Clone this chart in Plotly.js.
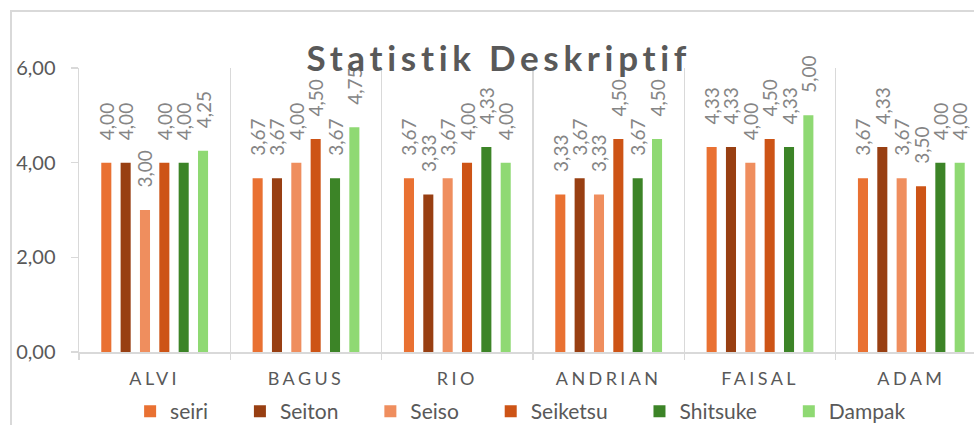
<!DOCTYPE html>
<html><head><meta charset="utf-8">
<script src="https://cdn.plot.ly/plotly-3.0.1.min.js"></script>
<style>
html,body{margin:0;padding:0;overflow:hidden;background:#fff;}
#chart{width:1000px;height:425px;position:absolute;left:0;top:0;}
#frame{position:absolute;left:10px;top:10px;width:1100px;height:500px;border-left:2px solid #D9D9D9;border-top:2px solid #D9D9D9;pointer-events:none;}
.gtitle{letter-spacing:4.7px;}
.xtick text{letter-spacing:3.4px;}
</style></head><body>
<div id="chart"></div><div id="frame"></div>
<script>
const categories = ['ALVI','BAGUS','RIO','ANDRIAN','FAISAL','ADAM'];
const seiri    = [4.00, 3.67, 3.67, 3.33, 4.33, 3.67];
const seiton   = [4.00, 3.67, 3.33, 3.67, 4.33, 4.33];
const seiso    = [3.00, 4.00, 3.67, 3.33, 4.00, 3.67];
const seiketsu = [4.00, 4.50, 4.00, 4.50, 4.50, 3.50];
const shitsuke = [4.00, 3.67, 4.33, 3.67, 4.33, 4.00];
const dampak   = [4.25, 4.75, 4.00, 4.50, 5.00, 4.00];
const seriesNames = ['seiri','Seiton','Seiso','Seiketsu','Shitsuke','Dampak'];
const seriesValues = [seiri, seiton, seiso, seiketsu, shitsuke, dampak];
const yTickVals = [0, 2, 4, 6];

const colors = ['#E97132','#983F12','#EF8E5E','#CD5416','#3C8427','#8FD973'];
const NB = '\u00a0';
const legendPad = NB.repeat(5);

const traces = seriesNames.map((name, i) => ({
  type: 'bar',
  name: name + legendPad,
  x: categories,
  y: seriesValues[i],
  marker: {color: colors[i]},
  texttemplate: NB.repeat(4) + '%{y:.2f}',
  textposition: 'outside',
  textangle: -90,
  constraintext: 'none',
  cliponaxis: false,
  textfont: {family: 'Lato', size: 19, color: '#858585'},
  hoverinfo: 'skip'
}));

const layout = {
  width: 1000, height: 425,
  margin: {l: 79, r: 13, t: 68, b: 73, autoexpand: false},
  separators: ', ',
  paper_bgcolor: '#fff', plot_bgcolor: '#fff',
  barmode: 'group', bargap: 0.233, bargroupgap: 0.48,
  showlegend: true,
  title: {
    text: 'Statistik Deskriptif',
    font: {family: 'Lato', size: 35, color: '#595959', weight: 700},
    xref: 'container', x: 0.4988, xanchor: 'center',
    yref: 'container', y: 0.862, yanchor: 'middle',
    automargin: false
  },
  xaxis: {
    type: 'category', tickson: 'boundaries',
    showgrid: true, gridcolor: '#D9D9D9', gridwidth: 1.5,
    ticks: 'outside', ticklen: 6, tickcolor: '#D9D9D9', tickwidth: 1.5,
    showline: true, linecolor: '#D9D9D9', linewidth: 1.5,
    tickfont: {family: 'Lato', size: 18, color: '#595959'},
    ticklabelstandoff: 10,
    automargin: false,
    fixedrange: true
  },
  yaxis: {
    range: [0, 6], tickvals: yTickVals, tickformat: '.2f',
    showgrid: false, zeroline: false,
    ticks: 'outside', ticklen: 7, tickcolor: '#D9D9D9', tickwidth: 1.5,
    showline: true, linecolor: '#D9D9D9', linewidth: 1.5,
    tickfont: {family: 'Lato', size: 20, color: '#595959'},
    ticklabelstandoff: 11,
    automargin: false,
    fixedrange: true
  },
  legend: {
    orientation: 'h', x: 0.0563, xanchor: 'left', y: -0.21, yanchor: 'middle',
    font: {family: 'Lato', size: 21, color: '#595959'},
    traceorder: 'normal', bgcolor: 'rgba(0,0,0,0)'
  }
};

Plotly.newPlot('chart', traces, layout, {displayModeBar: false, staticPlot: true});
</script>
</body></html>
